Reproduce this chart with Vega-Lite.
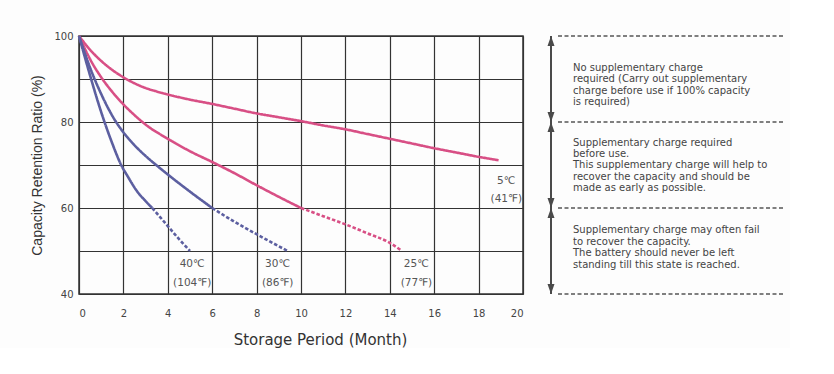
{
  "$schema": "https://vega.github.io/schema/vega-lite/v6.json",
  "background": "#fdfdfd",
  "padding": {"left": 30, "top": 30, "right": 0, "bottom": 0},
  "config": {
    "font": "DejaVu Sans",
    "view": {"stroke": null},
    "concat": {"spacing": 16}
  },
  "datasets": {
    "curves": [
      {"temp": "5", "seg": "solid", "month": 0, "ratio": 100},
      {"temp": "5", "seg": "solid", "month": 0.5, "ratio": 96.8},
      {"temp": "5", "seg": "solid", "month": 1, "ratio": 94.2},
      {"temp": "5", "seg": "solid", "month": 1.5, "ratio": 92.1},
      {"temp": "5", "seg": "solid", "month": 2, "ratio": 90.4},
      {"temp": "5", "seg": "solid", "month": 2.5, "ratio": 89},
      {"temp": "5", "seg": "solid", "month": 3, "ratio": 87.9},
      {"temp": "5", "seg": "solid", "month": 3.5, "ratio": 87.1},
      {"temp": "5", "seg": "solid", "month": 4, "ratio": 86.4},
      {"temp": "5", "seg": "solid", "month": 5, "ratio": 85.2},
      {"temp": "5", "seg": "solid", "month": 6, "ratio": 84.2},
      {"temp": "5", "seg": "solid", "month": 7, "ratio": 83.1},
      {"temp": "5", "seg": "solid", "month": 8, "ratio": 82},
      {"temp": "5", "seg": "solid", "month": 9, "ratio": 81.1},
      {"temp": "5", "seg": "solid", "month": 10, "ratio": 80.2},
      {"temp": "5", "seg": "solid", "month": 11, "ratio": 79.2},
      {"temp": "5", "seg": "solid", "month": 12, "ratio": 78.3},
      {"temp": "5", "seg": "solid", "month": 13, "ratio": 77.2},
      {"temp": "5", "seg": "solid", "month": 14, "ratio": 76.1},
      {"temp": "5", "seg": "solid", "month": 15, "ratio": 75},
      {"temp": "5", "seg": "solid", "month": 16, "ratio": 73.9},
      {"temp": "5", "seg": "solid", "month": 17, "ratio": 72.9},
      {"temp": "5", "seg": "solid", "month": 18, "ratio": 71.9},
      {"temp": "5", "seg": "solid", "month": 18.9, "ratio": 71.1},

      {"temp": "25", "seg": "solid", "month": 0, "ratio": 100},
      {"temp": "25", "seg": "solid", "month": 0.5, "ratio": 94.6},
      {"temp": "25", "seg": "solid", "month": 1, "ratio": 90.4},
      {"temp": "25", "seg": "solid", "month": 1.5, "ratio": 87},
      {"temp": "25", "seg": "solid", "month": 2, "ratio": 84.1},
      {"temp": "25", "seg": "solid", "month": 2.5, "ratio": 81.6},
      {"temp": "25", "seg": "solid", "month": 3, "ratio": 79.4},
      {"temp": "25", "seg": "solid", "month": 4, "ratio": 76.1},
      {"temp": "25", "seg": "solid", "month": 5, "ratio": 73.2},
      {"temp": "25", "seg": "solid", "month": 6, "ratio": 70.7},
      {"temp": "25", "seg": "solid", "month": 7, "ratio": 68.1},
      {"temp": "25", "seg": "solid", "month": 8, "ratio": 65.3},
      {"temp": "25", "seg": "solid", "month": 9, "ratio": 62.6},
      {"temp": "25", "seg": "solid", "month": 10, "ratio": 60},
      {"temp": "25", "seg": "dashed", "month": 10, "ratio": 60},
      {"temp": "25", "seg": "dashed", "month": 11, "ratio": 58.1},
      {"temp": "25", "seg": "dashed", "month": 12, "ratio": 56.2},
      {"temp": "25", "seg": "dashed", "month": 13, "ratio": 54.1},
      {"temp": "25", "seg": "dashed", "month": 14, "ratio": 51.9},
      {"temp": "25", "seg": "dashed", "month": 14.5, "ratio": 50.2},

      {"temp": "30", "seg": "solid", "month": 0, "ratio": 100},
      {"temp": "30", "seg": "solid", "month": 0.5, "ratio": 92.6},
      {"temp": "30", "seg": "solid", "month": 1, "ratio": 86.5},
      {"temp": "30", "seg": "solid", "month": 1.67, "ratio": 80},
      {"temp": "30", "seg": "solid", "month": 2, "ratio": 77.6},
      {"temp": "30", "seg": "solid", "month": 2.5, "ratio": 74.6},
      {"temp": "30", "seg": "solid", "month": 3, "ratio": 72.1},
      {"temp": "30", "seg": "solid", "month": 3.5, "ratio": 69.9},
      {"temp": "30", "seg": "solid", "month": 4, "ratio": 67.8},
      {"temp": "30", "seg": "solid", "month": 5, "ratio": 63.8},
      {"temp": "30", "seg": "solid", "month": 6, "ratio": 60},
      {"temp": "30", "seg": "dashed", "month": 6, "ratio": 60},
      {"temp": "30", "seg": "dashed", "month": 7, "ratio": 56.8},
      {"temp": "30", "seg": "dashed", "month": 8, "ratio": 53.9},
      {"temp": "30", "seg": "dashed", "month": 9.4, "ratio": 50},

      {"temp": "40", "seg": "solid", "month": 0, "ratio": 100},
      {"temp": "40", "seg": "solid", "month": 0.5, "ratio": 90.8},
      {"temp": "40", "seg": "solid", "month": 1, "ratio": 82.3},
      {"temp": "40", "seg": "solid", "month": 1.5, "ratio": 75},
      {"temp": "40", "seg": "solid", "month": 1.9, "ratio": 70},
      {"temp": "40", "seg": "solid", "month": 2.2, "ratio": 67.3},
      {"temp": "40", "seg": "solid", "month": 2.6, "ratio": 64},
      {"temp": "40", "seg": "solid", "month": 3, "ratio": 61.6},
      {"temp": "40", "seg": "solid", "month": 3.3, "ratio": 60},
      {"temp": "40", "seg": "dashed", "month": 3.3, "ratio": 60},
      {"temp": "40", "seg": "dashed", "month": 4, "ratio": 55.8},
      {"temp": "40", "seg": "dashed", "month": 4.5, "ratio": 52.8},
      {"temp": "40", "seg": "dashed", "month": 5, "ratio": 50}
    ],
    "labels": [
      {"month": 5.1, "ratio": 47, "text": "40℃"},
      {"month": 5.1, "ratio": 42.6, "text": "(104℉)"},
      {"month": 8.95, "ratio": 47, "text": "30℃"},
      {"month": 8.95, "ratio": 42.6, "text": "(86℉)"},
      {"month": 15.2, "ratio": 47, "text": "25℃"},
      {"month": 15.2, "ratio": 42.6, "text": "(77℉)"},
      {"month": 19.25, "ratio": 66.3, "text": "5℃"},
      {"month": 19.25, "ratio": 62.1, "text": "(41℉)"}
    ],
    "levels": [{"level": 100}, {"level": 80}, {"level": 60}, {"level": 40}],
    "zones": [
      {"top": 100, "bottom": 80, "first": 92.6, "note": "No supplementary charge\nrequired (Carry out supplementary\ncharge before use if 100% capacity\nis required)"},
      {"top": 80, "bottom": 60, "first": 75.2, "note": "Supplementary charge required\nbefore use.\nThis supplementary charge will help to\nrecover  the capacity and should be\nmade as early as possible."},
      {"top": 60, "bottom": 40, "first": 54.8, "note": "Supplementary charge may often fail\nto recover the capacity.\nThe battery should never be left\nstanding till this state is reached."}
    ]
  },
  "hconcat": [
    {
      "width": 444,
      "height": 258,
      "view": {"stroke": "#333333", "strokeWidth": 1.5},
      "layer": [
        {
          "data": {"name": "curves"},
          "mark": {"type": "line", "interpolate": "monotone"},
          "encoding": {
            "x": {
              "field": "month", "type": "quantitative",
              "scale": {"domain": [0, 20], "nice": false},
              "axis": {
                "values": [0, 2, 4, 6, 8, 10, 12, 14, 16, 18, 20],
                "grid": true, "gridColor": "#333333", "gridWidth": 1.2, "gridOpacity": 1,
                "ticks": false, "domain": false,
                "labelFontSize": 10, "labelColor": "#444444", "labelPadding": 14,
                "title": "Storage Period (Month)", "titleFontSize": 15, "titleFontWeight": "normal",
                "titleColor": "#333333", "titlePadding": 14, "titleX": 241
              }
            },
            "y": {
              "field": "ratio", "type": "quantitative",
              "scale": {"domain": [40, 100], "nice": false, "zero": false},
              "axis": {
                "values": [40, 50, 60, 70, 80, 90, 100],
                "labelExpr": "datum.value % 20 == 0 ? datum.label : ''",
                "grid": true, "gridColor": "#333333", "gridWidth": 1.2, "gridOpacity": 1,
                "ticks": false, "domain": false,
                "labelFontSize": 10, "labelColor": "#444444", "labelPadding": 6,
                "title": "Capacity Retention Ratio (%)", "titleFont": "Liberation Sans", "titleFontSize": 14, "titleFontWeight": "normal",
                "titleColor": "#333333", "titlePadding": 9
              }
            },
            "color": {
              "field": "temp", "type": "nominal",
              "scale": {"domain": ["5", "25", "30", "40"], "range": ["#d84f85", "#d84f85", "#5c5fa0", "#5c5fa0"]},
              "legend": null
            },
            "strokeWidth": {
              "field": "temp", "type": "nominal",
              "scale": {"domain": ["5", "25", "30", "40"], "range": [2.6, 2.6, 1.6, 1.6]},
              "legend": null
            },
            "strokeDash": {
              "field": "seg", "type": "nominal",
              "scale": {"domain": ["solid", "dashed"], "range": [[1, 0], [3.5, 2]]},
              "legend": null
            },
            "detail": [{"field": "temp"}, {"field": "seg"}]
          }
        },
        {
          "data": {"name": "labels"},
          "mark": {"type": "text", "fontSize": 10.5, "color": "#555555", "baseline": "middle"},
          "encoding": {
            "x": {"field": "month", "type": "quantitative"},
            "y": {"field": "ratio", "type": "quantitative"},
            "text": {"field": "text"}
          }
        }
      ]
    },
    {
      "width": 250,
      "height": 258,
      "view": {"stroke": null},
      "layer": [
        {
          "data": {"name": "levels"},
          "mark": {"type": "rule", "strokeDash": [4, 2.5], "color": "#555555", "strokeWidth": 1.3},
          "encoding": {
            "x": {"datum": 7.2, "type": "quantitative", "scale": {"domain": [0, 100], "nice": false}, "axis": null},
            "x2": {"datum": 97.2},
            "y": {"field": "level", "type": "quantitative", "scale": {"domain": [40, 100], "nice": false, "zero": false}, "axis": null}
          }
        },
        {
          "data": {"name": "zones"},
          "mark": {"type": "rule", "color": "#4a4a4a", "strokeWidth": 2},
          "encoding": {
            "x": {"datum": 4.4, "type": "quantitative"},
            "y": {"field": "top", "type": "quantitative"},
            "y2": {"field": "bottom"}
          }
        },
        {
          "data": {"name": "zones"},
          "mark": {"type": "point", "shape": "M0,0 L0.35,1 L-0.35,1 Z", "size": 400, "filled": true, "color": "#4a4a4a", "opacity": 1},
          "encoding": {
            "x": {"datum": 4.4, "type": "quantitative"},
            "y": {"field": "top", "type": "quantitative"}
          }
        },
        {
          "data": {"name": "zones"},
          "mark": {"type": "point", "shape": "M0,0 L0.35,-1 L-0.35,-1 Z", "size": 400, "filled": true, "color": "#4a4a4a", "opacity": 1},
          "encoding": {
            "x": {"datum": 4.4, "type": "quantitative"},
            "y": {"field": "bottom", "type": "quantitative"}
          }
        },
        {
          "data": {"name": "zones"},
          "mark": {"type": "text", "align": "left", "baseline": "middle", "lineBreak": "\n", "fontSize": 10, "lineHeight": 11.4, "color": "#444444"},
          "encoding": {
            "x": {"datum": 13.2, "type": "quantitative"},
            "y": {"field": "first", "type": "quantitative"},
            "text": {"field": "note"}
          }
        }
      ]
    }
  ]
}
